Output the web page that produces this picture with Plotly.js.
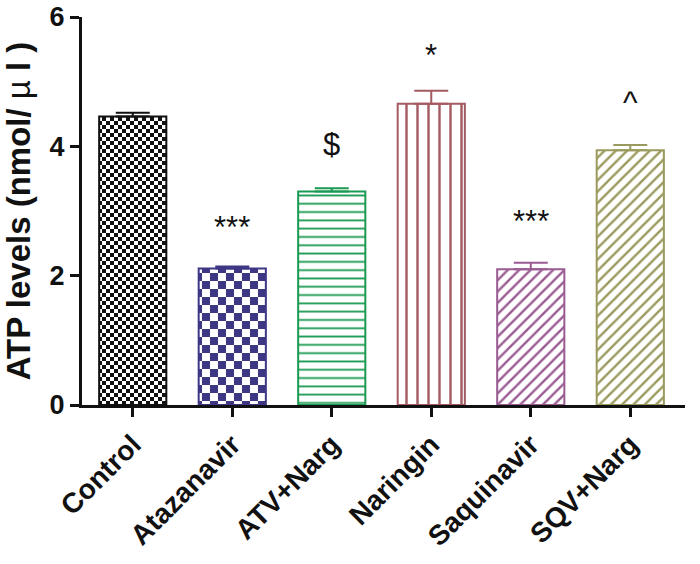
<!DOCTYPE html>
<html>
<head>
<meta charset="utf-8">
<script src="https://cdn.plot.ly/plotly-3.0.1.min.js"></script>
<style>html,body{margin:0;padding:0;background:#fff;}#chart{width:700px;height:564px;}</style>
</head>
<body>
<div id="chart"></div>
<script>
// Data
var categories = ["Control", "Atazanavir", "ATV+Narg", "Naringin", "Saquinavir", "SQV+Narg"];
var means = [4.46, 2.11, 3.30, 4.66, 2.10, 3.94];
var sems = [0.06, 0.03, 0.05, 0.20, 0.10, 0.08];
var colors = ["#111111", "#3d3785", "#1a9a52", "#a45a63", "#9a5b92", "#9a9a5e"];
var shapes = ["check", "check", "-", "|", "/", "/"];
var patternSizes = [8, 16, 8.3, 11, 8, 8];
var marks = ["", "***", "$", "*", "***", "^"];
var markY = [0, 2.75, 4.03, 5.40, 2.84, 4.68];
var yTicks = [0, 2, 4, 6];

function checkPath(s) {
  var h = s / 2;
  return "M0,0H" + h + "V" + h + "H0Z M" + h + "," + h + "H" + s + "V" + s + "H" + h + "Z";
}

var traces = categories.map(function (c, i) {
  var pat;
  if (shapes[i] === "check") {
    pat = {path: checkPath(patternSizes[i]), size: patternSizes[i], solidity: 1, fgcolor: colors[i], fillmode: "replace", bgcolor: "#ffffff"};
  } else {
    pat = {shape: shapes[i], size: patternSizes[i], solidity: shapes[i] === "/" ? 0.3 : 0.22, fgcolor: colors[i], bgcolor: "#ffffff", fillmode: "replace"};
  }
  return {
    type: "bar",
    x: [c],
    y: [means[i]],
    width: 0.675,
    marker: {color: "#ffffff", line: {color: colors[i], width: 2}, pattern: pat},
    error_y: {type: "data", array: [sems[i]], arrayminus: [0], symmetric: false, color: colors[i], thickness: 2, width: 17},
    showlegend: false,
    hoverinfo: "none"
  };
});

var FONT = "Liberation Sans, Arial, sans-serif";
var annotations = categories.map(function (c, i) {
  return {x: c, y: markY[i], xref: "x", yref: "y", text: marks[i], showarrow: false,
    font: {family: FONT, size: 31, color: "#111"}};
}).filter(function (a) { return a.text !== ""; });

var layout = {
  width: 700, height: 564,
  margin: {l: 82, r: 15, t: 17, b: 159},
  paper_bgcolor: "#ffffff", plot_bgcolor: "#ffffff",
  barmode: "overlay",
  xaxis: {
    type: "category", categoryorder: "array", categoryarray: categories,
    range: [-0.51, 5.55],
    showline: true, linecolor: "#111", linewidth: 3,
    ticks: "outside", ticklen: 9, tickwidth: 3, tickcolor: "#111",
    tickangle: -45, showgrid: false, zeroline: false, automargin: false,
    tickfont: {family: FONT, size: 28, color: "#111", weight: "bold"}
  },
  yaxis: {
    range: [0, 6], tickvals: yTicks, ticktext: yTicks.map(String),
    showline: true, linecolor: "#111", linewidth: 3,
    ticks: "outside", ticklen: 9, tickwidth: 3, tickcolor: "#111",
    showgrid: false, zeroline: false, automargin: false, ticklabeloverflow: "allow",
    tickfont: {family: FONT, size: 27, color: "#111", weight: "bold"},
    title: {text: "ATP levels (nmol/ <span style='font-weight:normal'>\u00b5</span> l )", standoff: 10,
      font: {family: FONT, size: 33, color: "#111", weight: "bold"}}
  },
  annotations: annotations
};

Plotly.newPlot("chart", traces, layout, {displayModeBar: false, staticPlot: true});
</script>
</body>
</html>
